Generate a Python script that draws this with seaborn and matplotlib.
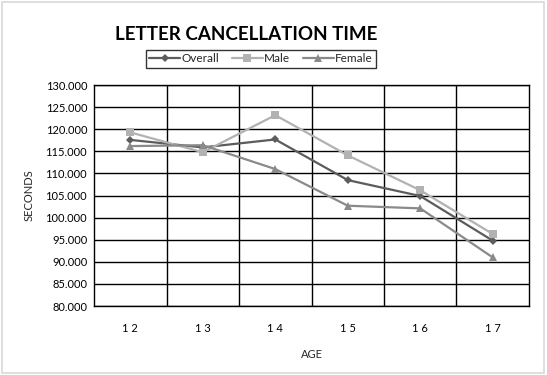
import pandas as pd
import matplotlib.pyplot as plt
import seaborn as sns
from matplotlib.patches import Rectangle
from matplotlib.ticker import FormatStrFormatter, FixedLocator

# data
ages = ["1 2", "1 3", "1 4", "1 5", "1 6", "1 7"]
overall = [117.6, 115.9, 117.7, 108.5, 104.9, 94.8]
male = [119.3, 114.8, 123.2, 114.1, 106.2, 96.3]
female = [116.2, 116.4, 111.0, 102.7, 102.1, 91.0]

df = pd.DataFrame({"AGE": ages, "Overall": overall, "Male": male, "Female": female})
long_df = df.melt(id_vars="AGE", var_name="Group", value_name="SECONDS")

sns.set_theme(style="white")
plt.rcParams["font.family"] = ["Lato", "DejaVu Sans"]

fig = plt.figure(figsize=(5.47, 3.75), dpi=100)
ax = fig.add_axes([0.172, 0.184, 0.795, 0.589])

palette = {"Overall": "#5c5c5c", "Male": "#b2b2b2", "Female": "#8a8a8a"}
markers = {"Overall": "D", "Male": "s", "Female": "^"}
sns.lineplot(data=long_df, x="AGE", y="SECONDS", hue="Group", style="Group",
             palette=palette, markers=markers, dashes=False, linewidth=1.6,
             markersize=6, markeredgewidth=0, sort=False, ax=ax)
# smaller diamonds for Overall
for ln in ax.lines:
    if ln.get_marker() == "D":
        ln.set_markersize(4.5)

ax.set_ylim(80, 130)
ax.set_xlim(-0.5, 5.5)
ax.set_yticks(range(80, 131, 5))
ax.yaxis.set_major_formatter(FormatStrFormatter("%.3f"))
ax.xaxis.set_minor_locator(FixedLocator([0.5, 1.5, 2.5, 3.5, 4.5]))
ax.grid(True, which="major", axis="y", color="black", linewidth=1)
ax.grid(True, which="minor", axis="x", color="black", linewidth=1)
ax.grid(False, which="major", axis="x")
ax.set_axisbelow(True)
for s in ax.spines.values():
    s.set_color("black")
    s.set_linewidth(1)
ax.tick_params(axis="both", which="both", length=0, labelsize=8, colors="black")
ax.tick_params(axis="x", pad=12)
ax.tick_params(axis="y", pad=5)
ax.set_xlabel("AGE", fontsize=8, labelpad=11)
ax.set_ylabel("SECONDS", fontsize=8, labelpad=8)

ax.legend_.remove()
handles, labels = ax.get_legend_handles_labels()
leg = fig.legend(handles, labels, loc="center", bbox_to_anchor=(0.477, 0.843), ncol=3,
                 frameon=True, fontsize=8.5, handlelength=2.6, handletextpad=0.1,
                 columnspacing=1.1, borderpad=0.3, fancybox=False)
leg.get_frame().set_edgecolor("black")
leg.get_frame().set_linewidth(1)

fig.text(0.45, 0.908, "LETTER CANCELLATION TIME", ha="center", va="center",
         fontsize=13.5, fontweight="bold", color="black")

fig.patches.append(Rectangle((0.004, 0.005), 0.991, 0.99, transform=fig.transFigure,
                             fill=False, edgecolor="#d9d9d9", linewidth=1.2))

fig.savefig("out.png", dpi=100)
